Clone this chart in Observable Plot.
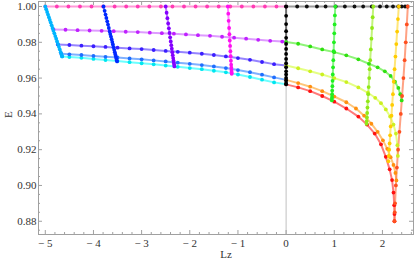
<!DOCTYPE html>
<html><head><meta charset="utf-8">
<script src="https://cdn.jsdelivr.net/npm/d3@7"></script>
<script src="https://cdn.jsdelivr.net/npm/@observablehq/plot@0.6"></script>
<style>body{margin:0;background:#fff} svg{display:block}</style>
</head><body><div id="chart"></div>
<script>
// ---- tick values ----
const xTicks = [-5,-4,-3,-2,-1,0,1,2];
const xMinor = [-4.8,-4.6,-4.4,-4.2,-3.8,-3.6,-3.4,-3.2,-2.8,-2.6,-2.4,-2.2,-1.8,-1.6,-1.4,-1.2,-0.8,-0.6,-0.4,-0.2,0.2,0.4,0.6,0.8,1.2,1.4,1.6,1.8,2.2,2.4,2.6];
const yTicks = [0.88,0.90,0.92,0.94,0.96,0.98,1.00];
const yMinor = [0.875,0.885,0.89,0.895,0.905,0.91,0.915,0.925,0.93,0.935,0.945,0.95,0.955,0.965,0.97,0.975,0.985,0.99,0.995,1.0];

// ---- "horizontal" families: [Lz, E] ----
const topNeg = [[-5.0,1],[-4.76,1],[-4.52,1],[-4.28,1],[-4.04,1],[-3.80,1],[-3.56,1],[-3.32,1],[-3.08,1],[-2.84,1],[-2.60,1],[-2.36,1],[-2.12,1],[-1.88,1],[-1.64,1],[-1.40,1],[-1.16,1],[-0.92,1],[-0.68,1],[-0.44,1],[-0.20,1],[0,1]];
const topPos = [[0,1],[0.23,1],[0.43,1],[0.64,1],[0.82,1],[1.03,1],[1.22,1],[1.42,1],[1.60,1],[1.78,1],[1.95,1],[2.09,1],[2.22,1],[2.33,1],[2.40,1],[2.47,1],[2.52,1]];
const purpleNeg = [[-4.83,.9872],[-4.58,.9870],[-4.33,.9868],[-4.08,.9866],[-3.83,.9864],[-3.58,.9862],[-3.33,.9859],[-3.08,.9857],[-2.83,.9854],[-2.58,.9851],[-2.33,.9848],[-2.08,.9844],[-1.83,.9840],[-1.58,.9836],[-1.33,.9831],[-1.08,.9826],[-0.83,.9820],[-0.58,.9814],[-0.33,.9808],[-0.08,.9804],[0,.9802]];
const greenPos = [[0,.9802],[0.25,.9792],[0.5,.9777],[0.75,.9760],[1.0,.9745],[1.25,.9727],[1.5,.9705],[1.72,.9680],[1.9,.9660],[2.05,.9638],[2.17,.9612],[2.26,.9580],[2.33,.9545],[2.37,.9510],[2.40,.9475]];
const indigoNeg = [[-4.74,.9788],[-4.5,.9785],[-4.25,.9781],[-4.0,.9778],[-3.75,.9774],[-3.5,.9770],[-3.25,.9766],[-3.0,.9762],[-2.75,.9757],[-2.5,.9752],[-2.25,.9747],[-2.0,.9742],[-1.75,.9736],[-1.5,.9729],[-1.25,.9721],[-1.0,.9712],[-0.75,.9702],[-0.5,.9690],[-0.25,.9678],[0,.9670]];
const limePos = [[0,.9670],[0.25,.9655],[0.5,.9638],[0.75,.9620],[1.0,.9600],[1.25,.9578],[1.5,.9548],[1.7,.9518],[1.85,.9490],[1.97,.9460],[2.07,.9425],[2.16,.9385],[2.23,.9340],[2.28,.9290],[2.31,.9225],[2.32,.9165]];
const blueNeg = [[-4.67,.9736],[-4.5,.9733],[-4.25,.9729],[-4.0,.9724],[-3.75,.9719],[-3.5,.9715],[-3.25,.9710],[-3.0,.9705],[-2.75,.9699],[-2.5,.9693],[-2.25,.9686],[-2.0,.9680],[-1.75,.9673],[-1.5,.9665],[-1.25,.9656],[-1.0,.9645],[-0.75,.9633],[-0.5,.9619],[-0.25,.9604],[0,.9590]];
const orangePos = [[0,.9590],[0.25,.9572],[0.5,.9552],[0.75,.9527],[1.0,.9497],[1.25,.9465],[1.45,.9430],[1.62,.9390],[1.77,.9345],[1.9,.9300],[2.01,.9252],[2.1,.9205],[2.17,.9158],[2.23,.9115],[2.27,.9070],[2.29,.9028]];
const cyanNeg = [[-4.65,.9721],[-4.5,.9718],[-4.25,.9713],[-4.0,.9707],[-3.75,.9701],[-3.5,.9695],[-3.25,.9689],[-3.0,.9683],[-2.75,.9677],[-2.5,.9670],[-2.25,.9663],[-2.0,.9656],[-1.75,.9650],[-1.5,.9641],[-1.25,.9632],[-1.0,.9620],[-0.75,.9606],[-0.5,.9591],[-0.25,.9576],[0,.9565]];
const redPos = [[0,.9565],[0.25,.9548],[0.5,.9527],[0.75,.9500],[1.0,.9468],[1.25,.9430],[1.5,.9385],[1.68,.9340],[1.84,.9290],[1.97,.9230],[2.07,.9160],[2.15,.9090],[2.20,.9030],[2.23,.8960],[2.245,.8890],[2.25,.8840],[2.25,.8800]];

// ---- "vertical" families: [Lz, E] ----
const v0 = [[-5.000,1],[-4.981,.9985],[-4.962,.997],[-4.944,.9955],[-4.925,.994],[-4.906,.9925],[-4.887,.991],[-4.868,.9895],[-4.850,.988],[-4.831,.9865],[-4.812,.985],[-4.793,.9835],[-4.774,.982],[-4.755,.9805],[-4.737,.979],[-4.718,.9775],[-4.699,.976],[-4.680,.9745],[-4.661,.973],[-4.650,.9721]];
const v1 = [[-3.790,1],[-3.768,.9976],[-3.749,.9955],[-3.732,.9936],[-3.714,.9917],[-3.698,.9899],[-3.681,.9880],[-3.663,.9861],[-3.651,.9847],[-3.637,.9832],[-3.623,.9817],[-3.609,.9802],[-3.597,.9788],[-3.583,.9773],[-3.569,.9758],[-3.557,.9745],[-3.546,.9732],[-3.535,.9721],[-3.525,.9710],[-3.516,.9700],[-3.510,.9693]];
const v2 = [[-2.500,1],[-2.481,.9965],[-2.465,.9935],[-2.449,.9905],[-2.434,.9878],[-2.420,.9852],[-2.408,.9828],[-2.395,.9805],[-2.384,.9784],[-2.373,.9764],[-2.363,.9745],[-2.354,.9728],[-2.345,.9712],[-2.338,.9698],[-2.331,.9686],[-2.325,.9675],[-2.320,.9665]];
const v3 = [[-1.210,1],[-1.201,.996],[-1.193,.992],[-1.184,.988],[-1.177,.9845],[-1.170,.981],[-1.163,.978],[-1.157,.975],[-1.151,.9722],[-1.146,.9697],[-1.141,.9675],[-1.137,.9658],[-1.134,.9645],[-1.132,.9635],[-1.131,.9628],[-1.130,.9624]];
const v4 = [[0,1],[0,.9948],[0,.9902],[0,.9862],[0,.9825],[0,.9791],[0,.9763],[0,.9735],[0,.9707],[0,.9683],[0,.9661],[0,.9638],[0,.9620],[0,.9601],[0,.9587],[0,.9572],[0,.9565]];
const v5 = [[1.020,1],[1.013,.995],[1.007,.990],[1.000,.985],[0.993,.980],[0.987,.975],[0.980,.970],[0.975,.966],[0.969,.962],[0.965,.9585],[0.961,.9555],[0.957,.953],[0.955,.951],[0.953,.9495],[0.951,.9485],[0.950,.9475]];
const v6 = [[1.810,1],[1.797,.994],[1.784,.988],[1.772,.982],[1.759,.976],[1.746,.970],[1.735,.965],[1.725,.960],[1.714,.955],[1.705,.951],[1.697,.947],[1.689,.9435],[1.683,.9405],[1.678,.938],[1.673,.936],[1.670,.9345]];
const v7 = [[2.340,1],[2.322,.993],[2.305,.986],[2.288,.979],[2.270,.972],[2.252,.965],[2.235,.958],[2.218,.951],[2.202,.945],[2.188,.939],[2.172,.933],[2.160,.928],[2.149,.9235],[2.140,.920],[2.131,.9165],[2.124,.9135]];
const v8 = [[2.527,1],[2.506,.99],[2.484,.98],[2.461,.97],[2.436,.96],[2.408,.95],[2.381,.94],[2.353,.93],[2.325,.92],[2.300,.91],[2.279,.90],[2.262,.89],[2.256,.885],[2.250,.880]];

const horiz = [
  {data: cyanNeg, line: "#30ffff", dot: "#00e6f0"},
  {data: blueNeg, line: "#4a90ff", dot: "#1e6eff"},
  {data: indigoNeg, line: "#6a50ff", dot: "#3a1eff"},
  {data: purpleNeg, line: "#d070ff", dot: "#c020ff"},
  {data: topNeg, line: "#ff70c8", dot: "#ff3cb4"},
  {data: redPos, line: "#ff4040", dot: "#ff1010"},
  {data: orangePos, line: "#ffac40", dot: "#ff9010"},
  {data: limePos, line: "#daff50", dot: "#ccf020"},
  {data: greenPos, line: "#60f040", dot: "#30e010"},
  {data: topPos, line: "#707070", dot: "#111111"}
];
const vert = [
  {data: v0, line: "#40ccff", dot: "#00b4ff"},
  {data: v1, line: "#3050ff", dot: "#0028ff"},
  {data: v2, line: "#a040ff", dot: "#8400ff"},
  {data: v3, line: "#ff50ff", dot: "#ff10f0"},
  {data: v4, line: "#404040", dot: "#000000"},
  {data: v5, line: "#50f050", dot: "#20f020"},
  {data: v6, line: "#a8f040", dot: "#90e818"},
  {data: v7, line: "#ffdc40", dot: "#ffcc00"},
  {data: v8, line: "#ff7a50", dot: "#ff5020"}
];

const W = 415, H = 264, mL = 38, mR = 2, mT = 1, mB = 30;
const innerH = H - mT - mB, innerW = W - mL - mR;
const fmtX = d => d < 0 ? "\u2212 " + Math.abs(d) : String(d);
const fmtY = d => d.toFixed(2);
const frameColor = "#a0a0a0";

const marks = [
  Plot.ruleX([0], {stroke: "#c0c0c0", strokeWidth: 1}),
];
for (const s of horiz) {
  marks.push(Plot.line(s.data, {x: d => d[0], y: d => d[1], stroke: s.line, strokeWidth: 2, strokeOpacity: 0.7}));
}
for (const s of vert) {
  marks.push(Plot.line(s.data, {x: d => d[0], y: d => d[1], stroke: s.line, strokeWidth: 2, strokeOpacity: 0.7}));
}
for (const s of horiz) {
  marks.push(Plot.dot(s.data, {x: d => d[0], y: d => d[1], fill: s.dot, r: 1.9}));
}
for (const s of vert) {
  marks.push(Plot.dot(s.data, {x: d => d[0], y: d => d[1], fill: s.dot, r: 1.9}));
}
marks.push(
  Plot.frame({stroke: frameColor}),
  Plot.tickX(xTicks, {x: d => d, stroke: frameColor, insetTop: innerH - 4}),
  Plot.tickX(xTicks, {x: d => d, stroke: frameColor, insetBottom: innerH - 4}),
  Plot.tickX(xMinor, {x: d => d, stroke: frameColor, insetTop: innerH - 2}),
  Plot.tickX(xMinor, {x: d => d, stroke: frameColor, insetBottom: innerH - 2}),
  Plot.tickY(yTicks, {y: d => d, stroke: frameColor, insetRight: innerW - 4}),
  Plot.tickY(yTicks, {y: d => d, stroke: frameColor, insetLeft: innerW - 4}),
  Plot.tickY(yMinor, {y: d => d, stroke: frameColor, insetRight: innerW - 2}),
  Plot.tickY(yMinor, {y: d => d, stroke: frameColor, insetLeft: innerW - 2}),
  Plot.axisX(xTicks, {tickSize: 0, tickPadding: 5, tickFormat: fmtX, label: null}),
  Plot.axisY(yTicks, {tickSize: 0, tickPadding: 2, tickFormat: fmtY, label: null}),
  Plot.text(["Lz"], {frameAnchor: "bottom", dy: 23, text: d => d}),
  Plot.text(["E"], {frameAnchor: "left", dx: -30, rotate: -90, text: d => d})
);

const chart = Plot.plot({
  width: W, height: H,
  marginLeft: mL, marginRight: mR, marginTop: mT, marginBottom: mB,
  x: {domain: [-5.141, 2.645]},
  y: {domain: [0.8726, 1.0028]},
  style: {fontFamily: "'Liberation Serif', 'Times New Roman', serif", fontSize: "11px", color: "#333", background: "#fff"},
  marks
});
document.getElementById("chart").appendChild(chart);
</script>
</body></html>
